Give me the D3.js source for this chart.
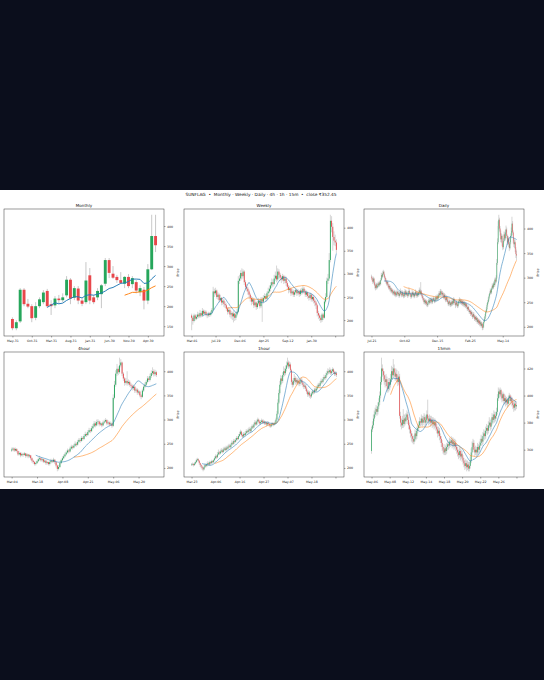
<!DOCTYPE html>
<html><head><meta charset="utf-8">
<script src="https://cdn.jsdelivr.net/npm/d3@7"></script>
<style>html,body{margin:0;padding:0;background:#0b0e1c;}svg{display:block;}text{font-family:"DejaVu Sans",sans-serif;}</style>
</head><body>
<svg id="c" width="544" height="680"></svg>
<script>
// ---------------- DATA ----------------
const monthlyOHLC = [
[168,172,140,145],[145,165,140,160],[162,245,158,241],[241,245,200,205],[206,218,195,199],
[200,205,160,170],[171,210,165,200],[200,222,195,217],[210,240,205,234],[238,243,196,200],
[205,215,178,200],[202,225,195,219],[219,228,205,215],[215,232,210,222],[227,275,222,266],
[266,270,205,219],[221,250,215,245],[244,250,205,214],[214,220,200,206],[210,310,205,264],
[277,295,205,214],[222,228,205,210],[222,245,215,238],[230,255,195,252],[256,320,250,315],
[315,320,270,283],[281,300,268,271],[273,278,258,265],[265,285,255,258],[256,275,245,273],
[273,280,245,250],[255,275,245,270],[260,265,232,239],[235,252,225,245],[241,248,192,214],
[214,305,205,292],[292,428,290,375],[375,428,335,352]];
const monthlyTicks = ["May-31","Oct-31","Mar-31","Aug-31","Jan-31","Jun-30","Nov-30","Apr-30"];
const monthlyYTicks = [150,200,250,300,350,400];

const weeklyOpen0 = 210;
const weeklyClose = [205,198,210,203,207,212,208,215,210,220,214,218,212,210,214,211,216,222,262,258,264,
250,255,243,248,238,242,235,232,225,218,222,212,215,208,214,205,212,218,285,290,302,295,305,282,
272,268,262,255,248,240,245,232,238,228,236,242,230,245,240,248,252,246,258,262,268,
275,282,278,290,296,288,305,298,292,288,295,285,290,280,272,265,268,258,262,255,
260,265,258,262,256,264,260,268,262,255,260,252,248,255,245,250,242,238,232,
215,210,205,200,212,205,240,250,285,290,330,415,402,380,372,368,352];
const weeklyHigh = [214,208,214,213,212,218,216,222,219,226,223,222,221,216,218,217,220,226,272,268,
270,266,260,258,255,250,248,246,240,236,228,228,225,220,218,219,216,218,224,295,
298,308,312,310,308,286,278,272,266,258,252,250,248,244,240,242,248,246,250,250,
254,258,256,262,270,275,282,290,288,298,305,318,312,310,302,296,300,298,296,294,
284,276,274,270,268,266,265,270,268,267,265,268,270,274,272,266,264,262,256,260,
258,256,254,246,242,235,220,214,210,216,215,245,258,292,300,345,428,425,410,392,385,375];
const weeklyLow = [178,190,195,199,200,203,204,205,206,207,210,211,208,204,206,207,208,213,220,250,
254,246,244,238,240,232,233,228,226,220,212,214,206,203,200,195,198,200,208,215,
278,285,288,290,276,266,262,255,248,240,232,235,226,228,222,224,232,225,226,196,
236,244,240,242,252,258,262,270,272,275,285,282,284,290,285,280,284,278,280,274,
266,258,260,252,254,250,250,255,252,254,250,252,255,256,258,250,250,246,242,244,
240,240,236,230,224,208,202,198,194,196,200,203,236,248,278,285,325,390,350,362,360,345];
const weeklyTicks = ["Mar-01","Jul-19","Dec-06","Apr-25","Sep-12","Jan-30",""];
const weeklyYTicks = [200,250,300,350,400];

const dailyOpen0 = 302;
const dailyClose = [300,296,292,298,290,284,279,286,280,283,288,285,290,287,295,305,302,308,312,306,
300,296,292,288,291,284,280,283,276,278,272,275,270,268,272,266,270,264,268,271,
266,269,263,267,272,268,264,270,266,262,268,272,265,270,267,263,269,273,268,265,
261,266,270,264,268,262,266,271,267,263,268,265,270,274,268,272,266,262,258,255,
250,254,248,252,246,244,250,253,249,255,252,256,250,254,258,255,252,257,260,256,
262,258,264,268,265,272,270,266,269,264,260,265,258,254,260,255,250,246,252,248,
244,250,246,252,248,256,252,248,244,250,246,242,248,252,255,250,253,248,252,246,
250,244,248,242,246,240,236,240,234,230,232,226,230,224,220,226,222,216,220,214,
218,210,214,208,212,205,209,202,206,198,200,210,216,222,230,236,244,250,256,262,
268,274,270,278,284,280,288,285,296,292,300,330,372,405,418,400,392,378,385,370,
362,375,388,380,392,398,385,372,380,368,360,372,385,395,410,392,375,368,372,358,348,345];
const dailyHigh = [306,303,299,302,300,292,287,290,289,288,292,291,294,293,299,310,309,313,316,314,
308,303,299,295,295,293,287,287,285,282,280,279,277,273,276,274,274,272,272,276,
273,273,271,271,278,275,271,274,273,268,272,277,275,274,273,270,273,280,276,271,
268,270,275,272,272,270,270,276,274,270,272,272,275,280,277,291,275,269,265,262,
258,258,256,256,254,249,254,257,256,259,258,260,258,258,262,261,258,261,264,263,
266,265,268,273,272,277,276,273,273,271,267,269,267,261,264,262,258,253,256,255,
251,254,253,257,255,260,259,255,251,254,253,249,252,256,260,258,257,256,256,254,
254,252,252,250,250,248,243,244,242,237,236,234,234,232,227,230,229,224,224,222,
222,220,218,216,216,214,213,211,210,208,205,214,220,226,234,240,248,254,260,266,
272,278,277,282,288,288,292,292,300,300,305,338,380,415,428,422,405,396,390,388,
374,380,394,392,398,406,402,388,385,383,372,378,390,402,424,415,396,380,378,376,362,355];
const dailyLow = [296,292,287,289,286,278,274,276,276,278,280,281,282,283,285,293,298,299,305,302,
296,292,288,284,285,280,276,277,272,272,268,269,266,264,265,262,263,260,261,265,
262,263,259,260,264,264,260,261,262,258,259,265,261,262,263,259,260,266,264,261,
257,258,263,260,261,258,259,263,263,259,260,261,262,267,264,265,262,258,254,251,
246,247,244,245,242,240,241,247,245,246,248,249,246,247,251,251,248,249,254,252,
253,254,255,261,261,262,266,262,263,260,256,257,254,250,251,251,246,242,243,244,
240,241,242,243,244,245,248,244,238,241,242,238,239,245,249,246,247,244,245,242,
243,240,241,238,239,236,232,233,230,226,227,222,223,220,216,217,218,212,213,210,
211,206,207,204,205,201,202,198,199,193,194,198,207,213,219,227,233,241,247,253,
259,265,266,267,275,276,277,281,282,288,289,298,326,368,398,394,386,372,372,364,
356,358,372,375,376,388,380,366,368,362,354,357,368,380,390,386,370,362,360,352,340,336];
const dailyTicks = ["Jul-21","Oct-02","Dec-15","Feb-25","May-14"];
const dailyYTicks = [200,250,300,350,400];

const h4Open0 = 236;
const h4Close = [238,240,236,239,235,228,231,226,229,227,230,225,228,224,226,220,215,212,208,210,
214,218,220,216,218,213,215,210,212,208,212,215,213,217,212,205,198,202,210,216,
220,224,228,232,236,234,240,244,242,246,250,248,254,258,256,262,260,266,270,268,
274,278,276,282,286,292,288,295,296,290,292,288,294,296,299,292,294,290,292,287,
345,372,395,405,398,412,418,395,385,376,380,375,378,372,370,365,368,360,362,356,
358,350,347,360,368,372,378,385,382,390,396,400,394,398,392];
const h4High = [242,243,242,242,241,236,234,233,232,231,233,231,231,229,229,227,222,217,214,213,
217,222,225,222,221,219,218,216,215,213,215,219,218,221,218,213,207,206,213,219,
224,228,232,236,240,239,244,248,247,250,255,253,258,262,262,266,265,270,275,273,
278,283,282,287,291,297,296,300,301,298,296,294,298,300,303,301,298,296,296,294,
352,380,402,415,410,428,425,420,398,388,386,400,383,381,376,373,372,370,366,365,
362,360,353,364,372,377,382,390,389,395,402,408,404,403,401];
const h4Low = [233,235,233,234,232,225,226,222,224,223,225,221,222,220,221,216,211,208,205,205,
208,212,215,213,213,210,210,206,207,205,205,209,210,211,208,201,193,195,200,208,
214,218,222,226,230,230,232,238,238,240,244,244,246,252,252,254,256,258,264,264,
266,272,272,274,280,284,284,286,291,286,287,284,286,291,294,288,289,286,287,283,
285,342,368,390,392,395,408,390,380,370,372,370,371,368,365,360,361,355,356,351,
352,346,342,345,357,365,369,375,378,379,386,392,389,390,388];
const h4Ticks = ["Mar-04","Mar-18","Apr-08","Apr-21","May-06","May-20"];
const h4YTicks = [200,250,300,350,400];

const h1Open0 = 206;
const h1Close = [207,208,206,209,212,216,218,215,210,206,203,200,197,202,206,204,208,210,207,212,
210,214,212,216,220,224,222,228,232,230,234,236,233,238,240,237,242,240,244,246,
243,248,252,250,256,254,258,262,260,266,270,275,268,265,270,268,272,276,274,278,
280,276,282,286,284,290,294,290,296,300,296,292,295,298,294,296,292,294,290,293,
291,288,286,290,292,289,291,294,300,312,335,355,372,385,380,392,400,396,405,412,
418,410,414,402,378,372,380,386,378,382,376,380,374,378,382,376,372,368,370,364,
358,352,356,350,348,354,358,356,362,360,364,368,372,370,376,380,378,384,388,386,
392,396,400,398,402,396,400,404,398,394,396,392];
const h1High = [210,211,210,212,215,219,221,220,216,211,208,205,202,205,209,208,211,214,212,215,
214,217,216,219,224,228,227,233,238,235,238,241,239,242,244,243,246,245,248,250,
249,252,257,255,260,259,262,266,265,270,275,279,277,271,274,273,276,280,279,282,
285,283,286,290,289,294,299,297,300,304,302,299,299,302,300,300,298,297,296,296,
296,293,291,293,295,294,294,298,304,318,342,362,380,392,390,398,410,406,412,420,
428,422,420,418,405,382,386,394,390,387,386,385,383,382,388,385,379,376,375,373,
367,361,360,359,354,358,362,361,366,365,368,372,376,375,380,385,383,388,393,391,
397,401,406,404,408,405,404,408,406,401,400,399];
const h1Low = [204,205,203,204,207,210,214,212,207,202,199,196,193,195,200,201,202,206,204,205,
207,208,209,210,214,218,219,220,226,227,228,231,230,231,235,234,235,237,238,241,
240,241,246,247,248,251,252,256,257,258,264,268,265,262,263,265,266,270,271,272,
275,273,274,280,281,282,288,287,288,294,292,289,290,292,291,291,289,289,286,287,
288,285,283,284,287,286,287,289,292,298,310,332,352,368,374,376,388,390,392,400,
408,405,406,398,372,366,368,376,372,374,371,372,369,370,374,371,367,363,364,359,
353,347,348,345,343,345,351,352,353,356,357,361,365,366,367,373,374,375,381,382,
383,389,393,394,395,392,393,397,394,390,391,388];
const h1Ticks = ["Mar-23","Apr-06","Apr-16","Apr-27","May-07","May-18",""];
const h1YTicks = [200,250,300,350,400];

const m15Open0 = 359;
const m15Close = [375,378,383,386,388,390,388,392,395,400,410,420,418,415,412,410,412,407,405,410,
408,412,418,415,420,417,414,416,412,410,414,385,380,378,382,379,383,381,384,386,
382,378,375,372,370,368,366,368,372,370,374,376,378,381,380,383,380,382,384,380,
382,386,383,381,383,380,382,379,381,378,380,377,375,372,374,370,368,365,362,360,
358,361,359,362,364,363,366,365,367,364,366,363,365,362,360,358,356,359,355,357,
354,352,350,348,350,347,349,346,348,352,358,362,365,360,358,360,358,362,360,363,
365,368,366,370,372,370,374,376,374,378,380,377,380,384,382,386,383,385,388,398,
403,401,404,400,398,401,396,398,395,397,394,398,400,396,398,395,393,391,394,392,393];
const m15High = [377,381,386,389,391,393,392,395,398,403,414,428,423,420,418,415,416,414,410,413,
413,416,422,421,427,423,420,420,419,415,418,416,388,383,385,390,386,386,387,389,
388,384,380,377,374,372,370,371,375,374,377,379,381,384,383,386,385,385,387,386,
385,389,397,385,386,385,385,384,384,383,383,382,379,377,377,376,372,370,367,364,
362,364,363,365,367,366,369,368,370,369,369,368,368,367,364,362,360,362,361,360,
359,356,354,352,353,352,352,351,351,355,361,366,368,367,362,363,362,365,364,366,
368,371,370,373,375,374,377,379,378,381,384,382,383,387,386,389,388,388,391,401,
406,405,406,405,402,403,402,401,400,399,398,400,402,401,400,399,397,395,396,396,395];
const m15Low = [357,373,376,381,384,386,385,386,390,393,398,408,414,411,408,406,407,403,402,403,
404,406,410,412,413,414,411,411,409,407,408,383,377,375,376,376,377,378,379,382,
379,375,372,369,366,365,364,364,366,367,368,372,374,376,377,378,377,378,380,377,
378,380,380,378,379,377,378,376,377,375,376,374,372,369,370,367,365,362,359,357,
356,356,356,357,360,360,361,362,363,361,362,360,361,359,357,355,353,354,352,353,
351,349,347,345,346,344,345,344,344,346,350,356,360,358,355,356,355,356,357,358,
361,363,363,364,368,367,368,372,371,372,376,374,375,378,379,380,380,381,383,386,
396,398,399,397,395,396,393,394,392,393,391,392,396,393,394,392,390,388,389,389,390];
const m15Ticks = ["May-06","May-08","May-12","May-14","May-18","May-20","May-22","May-26",""];
const m15YTicks = [360,380,400,420];

const titleText = "SUNFLAG  \u2022  Monthly \u00b7 Weekly \u00b7 Daily \u00b7 4h \u00b7 1h \u00b7 15m  \u2022  close \u20b9352.45";

// ---------------- BUILD ----------------
function fromOHLC(rows){ return rows.map(r=>({o:r[0],h:r[1],l:r[2],c:r[3]})); }
function fromClose(o0, C, Hs, Ls){
  return C.map((c,i)=>{ const o = i? C[i-1] : o0;
    return {o:o, c:c, h:Math.max(Hs[i]!=null?Hs[i]:c,o,c), l:Math.min(Ls[i]!=null?Ls[i]:c,o,c)}; });
}
function sma(cs, p){ const out=[]; let s=0;
  cs.forEach((d,i)=>{ s+=d.c; if(i>=p) s-=cs[i-p].c; if(i>=p-1) out.push([i,s/p]); }); return out; }

const UP="#26a65b", DN="#e8474b", WICK="#9a9a9a";
const svg = d3.select("#c");
svg.append("rect").attr("x",0).attr("y",190).attr("width",544).attr("height",299).attr("fill","#ffffff");
svg.append("text").attr("x",261).attr("y",196.3).attr("text-anchor","middle")
  .attr("font-size",4.3).attr("fill","#111").style("white-space","pre").text(titleText);

const panels = [
 {title:"Monthly", cx:4,   cy:209, ph:127, d:fromOHLC(monthlyOHLC), labels:monthlyTicks, step:5,  ma:[10,30], lw:0.95, yt:monthlyYTicks},
 {title:"Weekly",  cx:184, cy:209, ph:127, d:fromClose(weeklyOpen0,weeklyClose,weeklyHigh,weeklyLow), labels:weeklyTicks, step:20, ma:[10,30], lw:0.55, yt:weeklyYTicks},
 {title:"Daily",   cx:364, cy:209, ph:127, d:fromClose(dailyOpen0,dailyClose,dailyHigh,dailyLow), labels:dailyTicks, step:50, ma:[20,50], lw:0.55, yt:dailyYTicks},
 {title:"4hour",   cx:4,   cy:352, ph:125, d:fromClose(h4Open0,h4Close,h4High,h4Low), labels:h4Ticks, step:20, ma:[20,50], lw:0.55, yt:h4YTicks},
 {title:"1hour",   cx:184, cy:352, ph:125, d:fromClose(h1Open0,h1Close,h1High,h1Low), labels:h1Ticks, step:25, ma:[12,25], lw:0.55, yt:h1YTicks},
 {title:"15min",   cx:364, cy:352, ph:125, d:fromClose(m15Open0,m15Close,m15High,m15Low), labels:m15Ticks, step:20, ma:[14,22], lw:0.55, yt:m15YTicks}
];
const PW = 160;

panels.forEach((p,pi)=>{
  const g = svg.append("g").attr("transform",`translate(${p.cx},${p.cy})`);
  const n = p.d.length, hw = 0.3;
  const xm = (n-1+2*hw)*0.05;
  const x = d3.scaleLinear().domain([-hw-xm, n-1+hw+xm]).range([0,PW]);
  const lo = d3.min(p.d,d=>d.l), hi = d3.max(p.d,d=>d.h), ym=(hi-lo)*0.05;
  const y = d3.scaleLinear().domain([lo-ym, hi+ym]).range([p.ph,0]);
  const cid = "clip"+pi;
  g.append("clipPath").attr("id",cid).append("rect").attr("width",PW).attr("height",p.ph);
  const plot = g.append("g").attr("clip-path",`url(#${cid})`);
  const bw = Math.max(0.5, (x(1)-x(0))*0.75);
  plot.selectAll("line.w").data(p.d).enter().append("line")
    .attr("x1",(d,i)=>x(i)).attr("x2",(d,i)=>x(i)).attr("y1",d=>y(d.h)).attr("y2",d=>y(d.l))
    .attr("stroke",WICK).attr("stroke-width",pi===0?0.55:0.4);
  plot.selectAll("rect.b").data(p.d).enter().append("rect")
    .attr("x",(d,i)=>x(i)-bw/2).attr("width",bw)
    .attr("y",d=>y(Math.max(d.o,d.c))).attr("height",d=>Math.max(0.35, Math.abs(y(d.o)-y(d.c))))
    .attr("fill",d=>d.c>=d.o?UP:DN);
  const line = d3.line().x(d=>x(d[0])).y(d=>y(d[1]));
  plot.append("path").attr("d",line(sma(p.d,p.ma[1]))).attr("fill","none").attr("stroke","#ff7f0e").attr("stroke-width",p.lw);
  plot.append("path").attr("d",line(sma(p.d,p.ma[0]))).attr("fill","none").attr("stroke","#1f77b4").attr("stroke-width",p.lw);
  g.append("rect").attr("width",PW).attr("height",p.ph).attr("fill","none").attr("stroke","#222").attr("stroke-width",0.45);

  const tv = p.labels.map((l,i)=>i*p.step);
  const xa = g.append("g").attr("transform",`translate(0,${p.ph})`)
    .call(d3.axisBottom(x).tickValues(tv).tickFormat((v,i)=>p.labels[i]).tickSize(1.5).tickPadding(1.8));
  const ya = g.append("g").attr("transform",`translate(${PW},0)`)
    .call(d3.axisRight(y).tickValues(p.yt).tickFormat(d3.format("d")).tickSize(1.5).tickPadding(1.5));
  [xa,ya].forEach(a=>{ a.select(".domain").remove();
    a.selectAll("line").attr("stroke","#222").attr("stroke-width",0.4);
    a.selectAll("text").attr("font-size",3.2).attr("fill","#222").attr("font-family","DejaVu Sans"); });
  g.append("text").attr("transform",`translate(${PW+14.5},${p.ph/2}) rotate(-90)`).attr("text-anchor","middle")
    .attr("font-size",3.3).attr("fill","#222").text("Price");
  g.append("text").attr("x",PW/2).attr("y",-2.3).attr("text-anchor","middle")
    .attr("font-size",4.1).attr("fill","#111").text(p.title);
});
</script>
</body></html>
